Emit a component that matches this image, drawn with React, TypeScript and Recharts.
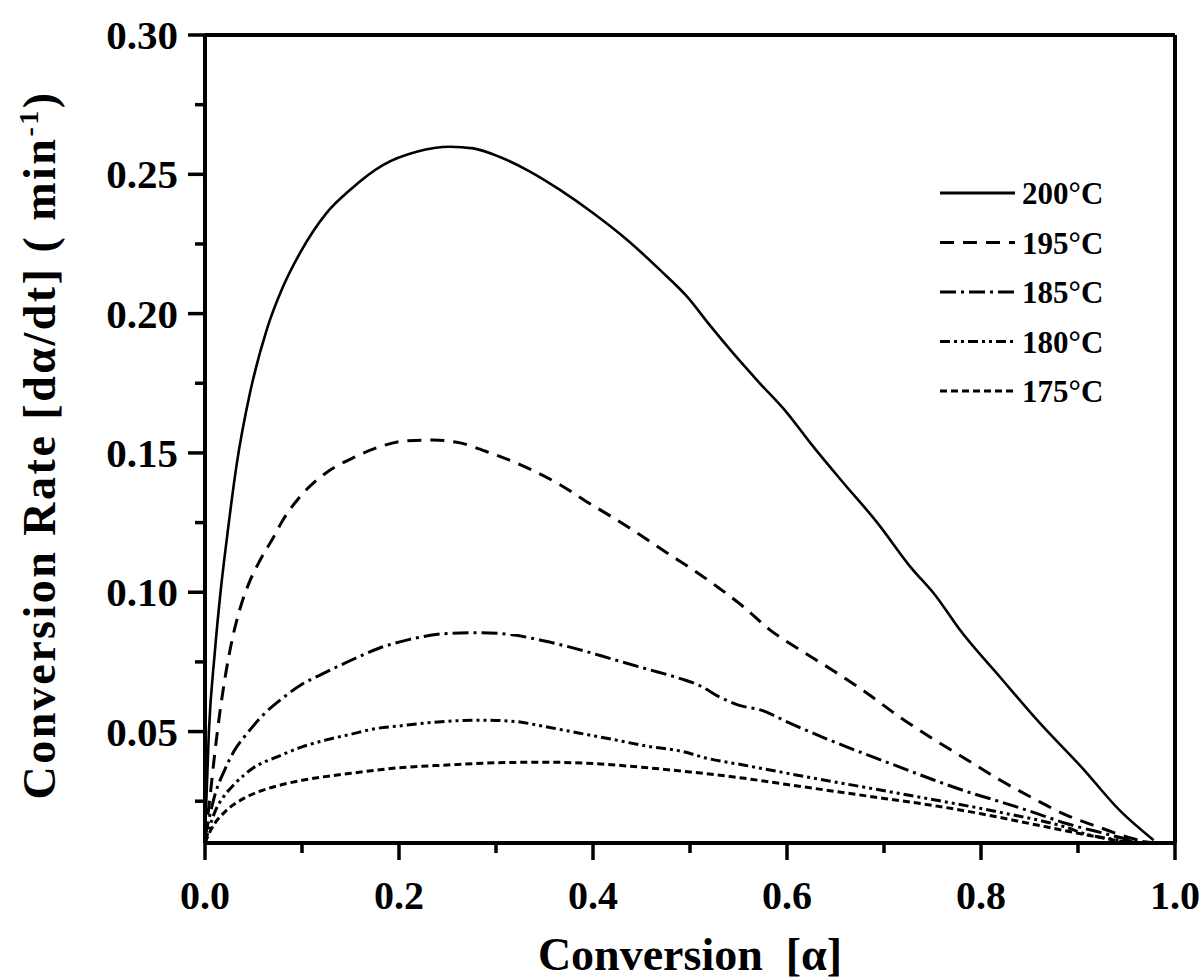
// 转化率-转化度曲线：5 个固化温度 (200/195/185/180/175°C)
// 黑白期刊风格：方框坐标、无网格、线型区分系列

import { LineChart, Line, XAxis, YAxis } from 'recharts'

// ─────────────────────────────────────────────────────────────
// 数据（读图估值）
// ─────────────────────────────────────────────────────────────
const alpha200 = [0, 0.004, 0.01, 0.016, 0.0224, 0.0327, 0.0464, 0.0636, 0.0805, 0.098, 0.125, 0.1495, 0.1838, 0.2182, 0.2526, 0.2766, 0.304, 0.335, 0.366, 0.4, 0.435, 0.469, 0.497, 0.521, 0.544, 0.572, 0.6, 0.624, 0.658, 0.693, 0.727, 0.754, 0.778, 0.82, 0.861, 0.905, 0.943, 0.978]
const rate200 = [0.012, 0.05, 0.078, 0.1, 0.1189, 0.146, 0.1716, 0.1942, 0.2097, 0.2218, 0.236, 0.2444, 0.2534, 0.2581, 0.2599, 0.2593, 0.2562, 0.251, 0.2444, 0.2361, 0.2265, 0.2157, 0.2061, 0.1956, 0.186, 0.175, 0.1644, 0.1536, 0.1393, 0.125, 0.1092, 0.0984, 0.0866, 0.0694, 0.0529, 0.0367, 0.0217, 0.011]

const alpha195 = [0, 0.005, 0.01, 0.015, 0.021, 0.028, 0.036, 0.045, 0.056, 0.0704, 0.0805, 0.098, 0.125, 0.153, 0.18, 0.208, 0.235, 0.263, 0.29, 0.33, 0.366, 0.393, 0.421, 0.448, 0.476, 0.503, 0.528, 0.555, 0.582, 0.613, 0.647, 0.68, 0.715, 0.75, 0.785, 0.82, 0.854, 0.888, 0.923, 0.957, 0.97]
const rate195 = [0.012, 0.026, 0.042, 0.056, 0.07, 0.083, 0.094, 0.103, 0.111, 0.1196, 0.126, 0.1343, 0.1429, 0.1483, 0.1522, 0.1544, 0.1546, 0.1536, 0.1505, 0.145, 0.1386, 0.1326, 0.1267, 0.1207, 0.1142, 0.1081, 0.102, 0.0948, 0.0866, 0.0794, 0.072, 0.0644, 0.0555, 0.0475, 0.04, 0.0325, 0.026, 0.02, 0.0155, 0.0115, 0.0105]

const alpha185 = [0, 0.005, 0.01, 0.02, 0.03, 0.045, 0.06, 0.08, 0.1, 0.12, 0.15, 0.18, 0.21, 0.25, 0.285, 0.315, 0.35, 0.385, 0.42, 0.455, 0.49, 0.51, 0.53, 0.55, 0.575, 0.6, 0.64, 0.68, 0.715, 0.75, 0.785, 0.82, 0.854, 0.888, 0.923, 0.957, 0.975]
const rate185 = [0.012, 0.02, 0.027, 0.036, 0.043, 0.05, 0.056, 0.062, 0.067, 0.0705, 0.0755, 0.08, 0.083, 0.0852, 0.0855, 0.0848, 0.0825, 0.0795, 0.076, 0.0725, 0.069, 0.0665, 0.0625, 0.0595, 0.0575, 0.0535, 0.0475, 0.042, 0.0374, 0.0328, 0.0285, 0.0248, 0.021, 0.017, 0.0138, 0.011, 0.0102]

const alpha180 = [0, 0.005, 0.01, 0.02, 0.03, 0.05, 0.075, 0.1, 0.125, 0.15, 0.175, 0.2, 0.225, 0.25, 0.285, 0.32, 0.35, 0.385, 0.42, 0.455, 0.49, 0.52, 0.555, 0.59, 0.627, 0.68, 0.75, 0.82, 0.888, 0.91, 0.94, 0.96]
const rate180 = [0.01, 0.016, 0.021, 0.027, 0.031, 0.037, 0.041, 0.0445, 0.047, 0.049, 0.051, 0.052, 0.053, 0.0537, 0.0541, 0.0536, 0.0518, 0.0495, 0.0472, 0.0448, 0.043, 0.0402, 0.038, 0.0357, 0.0333, 0.03, 0.0256, 0.021, 0.0156, 0.013, 0.0112, 0.0104]

const alpha175 = [0, 0.005, 0.01, 0.02, 0.04, 0.06, 0.08, 0.1, 0.15, 0.2, 0.25, 0.3, 0.35, 0.4, 0.45, 0.5, 0.55, 0.6, 0.65, 0.7, 0.75, 0.8, 0.85, 0.9, 0.93, 0.95]
const rate175 = [0.01, 0.014, 0.017, 0.021, 0.026, 0.029, 0.031, 0.0325, 0.035, 0.037, 0.038, 0.0388, 0.039, 0.0385, 0.0372, 0.0355, 0.0335, 0.031, 0.0285, 0.026, 0.0235, 0.0205, 0.017, 0.0135, 0.0115, 0.0103]

const seriesNames = ['200°C', '195°C', '185°C', '180°C', '175°C']

const xTicks = [0, 0.1, 0.2, 0.3, 0.4, 0.5, 0.6, 0.7, 0.8, 0.9, 1.0]
const yTicks = [0.025, 0.05, 0.075, 0.1, 0.125, 0.15, 0.175, 0.2, 0.225, 0.25, 0.275, 0.3]

// 线型（与系列顺序对应）
const dashes = ['', '14 9', '16 5 3 5', '10 4 3 4 3 4', '7 4']

const SERIF = '"Liberation Serif", "DejaVu Serif", serif'
const AXIS = { stroke: '#000', strokeWidth: 4 }

function toPoints(xs: number[], ys: number[]) {
  return xs.map((a, i) => ({ a, r: ys[i] }))
}

const series = [
  toPoints(alpha200, rate200),
  toPoints(alpha195, rate195),
  toPoints(alpha185, rate185),
  toPoints(alpha180, rate180),
  toPoints(alpha175, rate175),
]

// ─────────────────────────────────────────────────────────────
// 刻度：主刻度带数字，次刻度只画短线，均朝外
// ─────────────────────────────────────────────────────────────
function XTick({ x, y, payload }: any) {
  const v = payload.value as number
  const major = Math.round(v * 10) % 2 === 0
  return (
    <g>
      <line x1={x} x2={x} y1={y} y2={y + (major ? 17 : 10)} stroke="#000" strokeWidth={3.5} />
      {major && (
        <text x={x} y={y + 66} textAnchor="middle" fontFamily={SERIF} fontWeight="bold" fontSize={40} fill="#000">
          {v.toFixed(1)}
        </text>
      )}
    </g>
  )
}

function YTick({ x, y, payload }: any) {
  const v = payload.value as number
  const major = Math.round(v * 1000) % 50 === 0
  return (
    <g>
      <line x1={x - (major ? 17 : 10)} x2={x} y1={y} y2={y} stroke="#000" strokeWidth={3.5} />
      {major && (
        <text x={x - 27} y={y + 14} textAnchor="end" fontFamily={SERIF} fontWeight="bold" fontSize={41} fill="#000">
          {v.toFixed(2)}
        </text>
      )}
    </g>
  )
}

function YTitle(props: any) {
  const vb = props.viewBox || { x: 204, y: 35, width: 1, height: 808 }
  const cx = vb.x - 149
  const cy = vb.y + vb.height / 2 + 6
  return (
    <text
      transform={`translate(${cx},${cy}) rotate(-90)`}
      textAnchor="middle"
      fontFamily={SERIF}
      fontWeight="bold"
      fontSize={46}
      letterSpacing={2.5}
      fill="#000"
    >
      Conversion Rate [dα/dt] ( min
      <tspan dy={-17} fontSize={28}>-1</tspan>
      <tspan dy={17}>)</tspan>
    </text>
  )
}

// 图例：右上角，线段 + 温度
function LegendBox() {
  return (
    <svg width={200} height={240} style={{ position: 'absolute', left: 930, top: 168, overflow: 'visible' }}>
      {seriesNames.map((name, i) => {
        const cy = 25 + i * 49.5
        return (
          <g key={name}>
            <line
              x1={10} x2={85} y1={cy} y2={cy}
              stroke="#000" strokeWidth={3}
              strokeDasharray={dashes[i] || undefined}
            />
            <text x={92} y={cy + 11} fontFamily={SERIF} fontWeight="bold" fontSize={31} fill="#000">
              {name}
            </text>
          </g>
        )
      })}
    </svg>
  )
}

export default function App() {
  return (
    <div style={{ position: 'absolute', left: 0, top: 0, width: 1203, height: 979, background: '#fff' }}>
      <LineChart
        width={1203}
        height={979}
        margin={{ top: 34, right: 27, bottom: 135, left: 204 }}
      >
        <XAxis
          dataKey="a"
          type="number"
          domain={[0, 1]}
          allowDataOverflow
          ticks={xTicks}
          interval={0}
          height={1}
          tickSize={0}
          tickMargin={0}
          tickLine={false}
          tick={<XTick />}
          axisLine={AXIS}
          label={{
            value: 'Conversion\u00A0\u00A0[α]',
            position: 'bottom',
            offset: 93,
            style: { fontFamily: SERIF, fontWeight: 'bold', fontSize: 46, fill: '#000' },
          }}
        />
        <XAxis
          xAxisId="top"
          orientation="top"
          type="number"
          domain={[0, 1]}
          allowDataOverflow
          height={1}
          tick={false}
          tickLine={false}
          axisLine={AXIS}
        />
        <YAxis
          type="number"
          domain={[0.01, 0.3]}
          allowDataOverflow
          ticks={yTicks}
          interval={0}
          width={1}
          tickSize={0}
          tickMargin={0}
          tickLine={false}
          tick={<YTick />}
          axisLine={AXIS}
          label={{ content: <YTitle /> }}
        />
        <YAxis
          yAxisId="right"
          orientation="right"
          type="number"
          domain={[0.01, 0.3]}
          allowDataOverflow
          width={1}
          tick={false}
          tickLine={false}
          axisLine={AXIS}
        />
        {series.map((pts, i) => (
          <Line
            key={seriesNames[i]}
            data={pts}
            dataKey="r"
            name={seriesNames[i]}
            type="monotone"
            stroke="#000"
            strokeWidth={i === 0 ? 2.6 : 3}
            strokeDasharray={dashes[i] || undefined}
            dot={false}
            activeDot={false}
            isAnimationActive={false}
          />
        ))}
      </LineChart>
      <LegendBox />
    </div>
  )
}
